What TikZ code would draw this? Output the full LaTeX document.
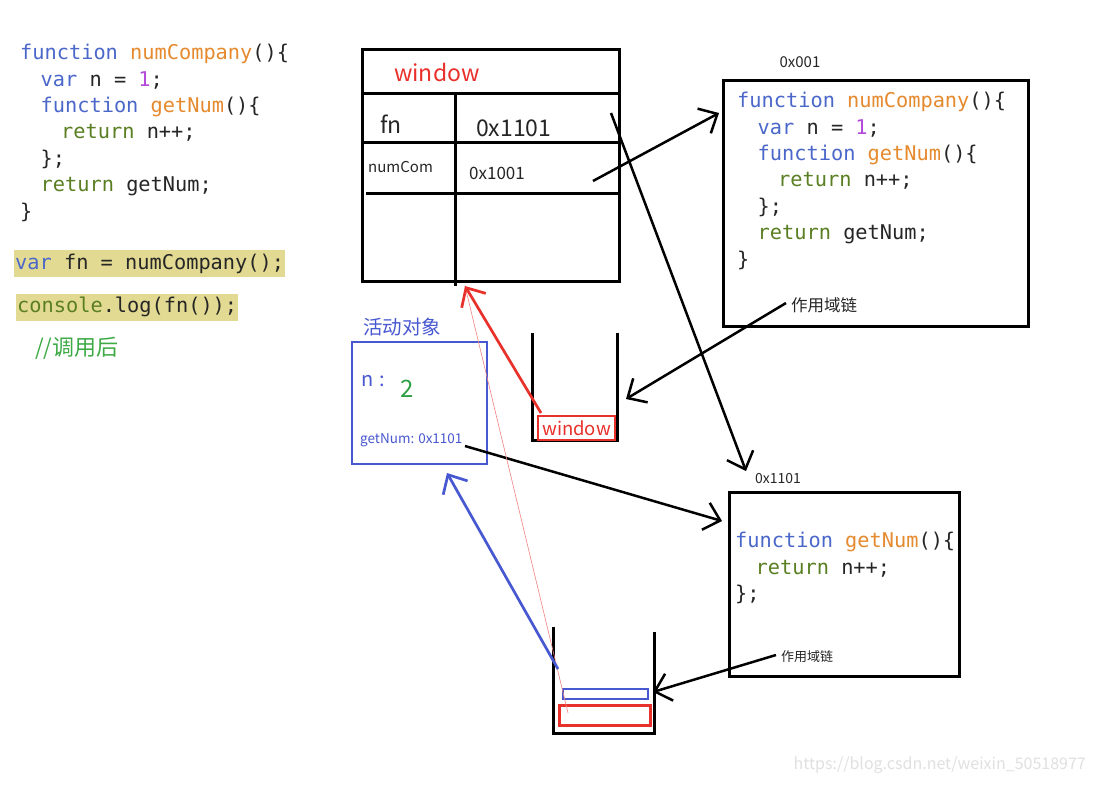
\documentclass[tikz,border=0pt]{standalone}
\usepackage{fontspec}
\setmonofont{DejaVu Sans Mono}
\newfontfamily\cjk{Noto Sans CJK SC}
\usepackage{tikz}
\usetikzlibrary{arrows.meta,positioning,calc}
\definecolor{kwblue}{HTML}{4A67C9}
\definecolor{fnorange}{HTML}{E58A2E}
\definecolor{numpurple}{HTML}{B44AD9}
\definecolor{retgreen}{HTML}{5A7F22}
\definecolor{hlyellow}{HTML}{E2DA92}
\definecolor{cmtgreen}{HTML}{3DAA45}
\definecolor{memred}{HTML}{E8312B}
\definecolor{aoblue}{HTML}{4858D0}
\definecolor{valgreen}{HTML}{2EA043}
\newcommand{\kw}[1]{\textcolor{kwblue}{#1}}
\newcommand{\fnm}[1]{\textcolor{fnorange}{#1}}
\newcommand{\ret}[1]{\textcolor{retgreen}{#1}}
\newcommand{\fsz}[1]{\fontsize{#1}{#1}\selectfont}
\newcommand{\ind}{\hspace*{20.5pt}}
\tikzset{
      code/.style    = {font=\ttfamily\fontsize{20.3}{26.4}\selectfont, align=left, inner sep=0pt, text=black!85},
      hilite/.style  = {code, fill=hlyellow, inner xsep=1pt, inner ysep=0pt, minimum height=27pt},
      memcell/.style = {draw, black, line width=3pt, inner sep=0pt},
      lbl/.style     = {inner sep=0pt, text=black!85},
      ptr/.style     = {black, line width=2.5pt, -{Straight Barb[length=15pt,width=28pt]}},
      redptr/.style  = {memred, line width=2.7pt, -{Straight Barb[length=15pt,width=28pt]}},
      blueptr/.style = {aoblue, line width=2.7pt, -{Straight Barb[length=15pt,width=28pt]}},
      trail/.style   = {memred!60, line width=0.6pt},
      stack/.style   = {black, line width=3pt},
    }

\begin{document}
\begin{tikzpicture}[x=1pt, y=-1pt]
    \fill[white] (0,0) rectangle (1094,784);
    \useasboundingbox (0,0) rectangle (1094,784);

    % source code
    \node [code, anchor=north west] (src) at (20,44) {%
      \kw{function} \fnm{numCompany}()\{\\
      \ind\kw{var} n = \textcolor{numpurple}{1};\\
      \ind\kw{function} \fnm{getNum}()\{\\
      \ind\ind\ret{return} n++;\\
      \ind\};\\
      \ind\ret{return} getNum;\\
      \}};
    \node [hilite, anchor=west] (call1) at (14,263.5) {\kw{var} fn = numCompany();};
    \node [hilite, anchor=west] (call2) at (16,307) {\ret{console}.log(fn());};
    \node [lbl, anchor=west, font=\cjk\fsz{22}, text=cmtgreen] (after) at (35,348) {//调用后};

    % window
    \node [memcell, minimum width=257pt, minimum height=231pt] (winbox) at (490.5,165.5) {};
    \draw [stack] (362,93) -- (619,93);
    \draw [stack] (362,142) -- (619,142);
    \draw [stack] (366,193) -- (619,193);
    \draw [stack] (455,93) -- (455,286);
    \node [lbl, anchor=west, font=\cjk\fsz{23}, text=memred] (wintitle) at (394,72.5) {window};
    \node [lbl, anchor=west, font=\cjk\fsz{23}] (fnkey) at (380,124) {fn};
    \node [lbl, anchor=west, font=\cjk\fsz{23}] (fnval) at (476,128.5) {0x1101};
    \node [lbl, anchor=west, font=\cjk\fsz{15}] (numkey) at (368,167.5) {numCom};
    \node [lbl, anchor=west, font=\cjk\fsz{17}] (numval) at (469,173) {0x1001};

    % heap 0x001
    \node [memcell, minimum width=305pt, minimum height=246pt] (fnbox) at (875.5,203) {};
    \node [lbl, font=\cjk\fsz{15}] (fnaddr) at (800,62) {0x001};
    \node [code, anchor=north west] (fncode) at (737,92) {%
      \kw{function} \fnm{numCompany}()\{\\
      \ind\kw{var} n = \textcolor{numpurple}{1};\\
      \ind\kw{function} \fnm{getNum}()\{\\
      \ind\ind\ret{return} n++;\\
      \ind\};\\
      \ind\ret{return} getNum;\\
      \}};
    \node [lbl, anchor=west, font=\cjk\fsz{16.5}] (chainone) at (791,305) {作用域链};

    % heap 0x1101
    \node [memcell, minimum width=230pt, minimum height=184pt] (getbox) at (844,584) {};
    \node [lbl, font=\cjk\fsz{14}] (getaddr) at (778,479) {0x1101};
    \node [code, anchor=north west] (getcode) at (735,532) {%
      \kw{function} \fnm{getNum}()\{\\
      \ind\ret{return} n++;\\
      \};};
    \node [lbl, anchor=west, font=\cjk\fsz{13}] (chaintwo) at (781,657) {作用域链};

    % activation object
    \node [draw=aoblue, line width=2.6pt, minimum width=135pt, minimum height=122pt, inner sep=0pt] (actbox) at (419.5,403) {};
    \node [lbl, font=\cjk\fsz{19.5}, text=aoblue] (acttitle) at (402,327) {活动对象};
    \node [lbl, anchor=west, font=\cjk\fsz{20}, text=aoblue] (nkey) at (361,381) {n\hspace{6pt}:};
    \node [lbl, font=\cjk\fsz{24}, text=valgreen] (nval) at (407,389) {2};
    \node [lbl, anchor=west, font=\cjk\fsz{13.5}, text=aoblue] (getnum) at (360,440) {getNum: 0x1101};

    % stacks
    \draw [stack] (532,333) -- (532,440) -- (617,440) -- (617,333);
    \node [draw=memred, line width=2.6pt, minimum width=77pt, minimum height=24pt, inner sep=0pt,
           font=\cjk\fsz{18.5}, text=memred] (stackwin) at (576.5,428) {window};
    \draw [stack] (553,627) -- (553,733) -- (654,733) -- (654,632);
    \node [draw=aoblue, line width=2.6pt, minimum width=85pt, minimum height=10pt, inner sep=0pt] (callblue) at (605.5,694) {};
    \node [draw=memred, line width=3pt, minimum width=91pt, minimum height=20pt, inner sep=0pt] (callred) at (604.5,715) {};

    \coordinate (numptr) at (593,181);
    \coordinate (fnentry) at (719,113);
    \coordinate (fnptr) at (611,113);
    \coordinate (getentry) at (746,471);
    \coordinate (getside) at (722,521);
    \coordinate (getnumptr) at (465,446);
    \coordinate (winstackR) at (626,399);
    \coordinate (callstackR) at (653,692);
    \coordinate (winbottom) at (465,286);
    \coordinate (aobottom) at (447,473);
    \coordinate (winitem) at (541,413);
    \coordinate (callitem) at (558,669);
    \coordinate (trace) at (568,713);

    \path (numptr) edge[ptr] (fnentry);
    \path (fnptr) edge[ptr] (getentry);
    \path (getnumptr) edge[ptr] (getside);
    \path ($(chainone.west)+(-5,-2)$) edge[ptr] (winstackR);
    \path ($(chaintwo.west)+(-5,-2)$) edge[ptr] (callstackR);
    \path (trace) edge[trail] (winbottom);
    \path (winitem) edge[redptr] (winbottom);
    \path (callitem) edge[blueptr] (aobottom);

    \node [lbl, anchor=east, font=\cjk\fsz{16}, text=black!12] (mark) at (1086,765) {https://blog.csdn.net/weixin\_50518977};
\end{tikzpicture}
\end{document}
